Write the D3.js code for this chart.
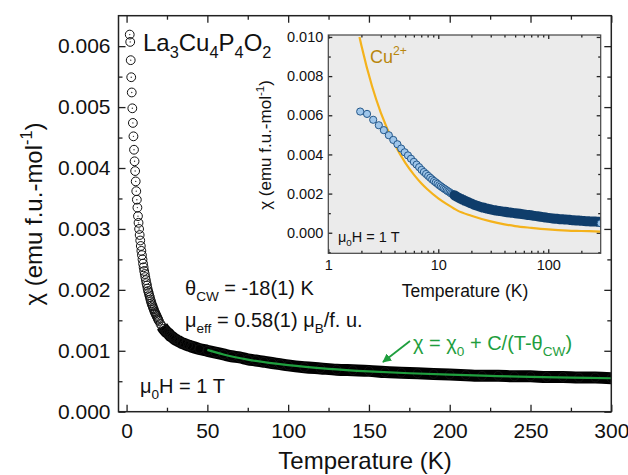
<!DOCTYPE html>
<html>
<head>
<meta charset="utf-8">
<script src="https://cdn.jsdelivr.net/npm/d3@7"></script>
<style>
  body { margin: 0; background: #fff; }
  svg { display: block; font-family: "Liberation Sans", Arial, sans-serif; }
</style>
</head>
<body>
<div id="chart"></div>
<script>
// measured chi(T), mu0H = 1 T
var tempK = [1.95, 2.25, 2.56, 2.88, 3.2, 3.55, 3.9, 4.25, 4.6, 4.95, 5.3, 5.65, 6.0, 6.35, 6.7, 7.05, 7.4,
  7.75, 8.1, 8.45, 8.8, 9.15, 9.5, 9.85, 10.2, 10.55, 10.9, 11.25, 11.6, 11.95, 12.3, 12.65, 13.0, 13.35, 13.7,
  14.05, 14.4, 14.75, 15.1, 15.45, 15.8, 16.15, 16.5, 16.85, 17.2, 17.55, 17.9, 18.25, 18.6, 18.95, 19.3, 19.65, 20,
  21, 22, 23, 24, 25, 26, 27, 28, 29, 30, 32, 34, 36, 38, 40, 45, 50, 55, 60, 65, 70, 75, 80, 85, 90, 95,
  100, 110, 120, 130, 140, 150, 160, 170, 180, 190, 200, 210, 220, 230, 240, 250, 260, 270, 280, 290, 300];
var chiMeas = [0.00619, 0.00607, 0.00577, 0.00549, 0.00524, 0.00498, 0.00474, 0.00452, 0.00430, 0.00411, 0.00395, 0.00378, 0.00362, 0.00348, 0.00335, 0.00321, 0.00310,
  0.00300, 0.00290, 0.00281, 0.00272, 0.00264, 0.00257, 0.00250, 0.00243, 0.00237, 0.00231, 0.00226, 0.00221, 0.00216, 0.00211, 0.00207, 0.00202, 0.00198, 0.00195,
  0.00191, 0.00188, 0.00184, 0.00181, 0.00178, 0.00175, 0.00173, 0.00170, 0.00168, 0.00165, 0.00163, 0.00161, 0.00159, 0.00157, 0.00155, 0.00153, 0.00151, 0.00149,
  0.00144, 0.00140, 0.00136, 0.00133, 0.00130, 0.00128, 0.00125, 0.00123, 0.00121, 0.00119, 0.00116, 0.00113, 0.00111, 0.00109, 0.00107, 0.00103, 0.00100, 0.00097, 0.00094, 0.00091, 0.00089, 0.00086, 0.00084, 0.00082, 0.00080, 0.00078,
  0.00076, 0.00073, 0.00071, 0.00069, 0.00068, 0.00067, 0.00065, 0.00064, 0.00063, 0.00062, 0.00061, 0.00060, 0.00059, 0.00059, 0.00058, 0.00058, 0.00057, 0.00057, 0.00056, 0.00056, 0.00055];

// Curie-Weiss fit line (50-300 K)
var fitT = [50, 60, 75, 100, 125, 150, 175, 200, 225, 250, 275, 300];
var fitChi = [0.001015, 0.000939, 0.000855, 0.000764, 0.000704, 0.000662, 0.000631, 0.000607, 0.000588, 0.000572, 0.000560, 0.000549];

// free Cu2+ curve in the inset
var cuT = [1.92, 2, 2.5, 3, 4, 5, 6, 7, 8, 10, 12, 15, 20, 30, 40, 50, 70, 100, 150, 200, 300];
var cuChi = [0.0100, 0.00956, 0.00748, 0.00614, 0.00453, 0.00358, 0.00297, 0.00253, 0.00221, 0.00176, 0.00146, 0.00113, 0.00087, 0.00058, 0.00043, 0.00034, 0.00025, 0.00017, 0.00011, 0.00009, 0.00006];

var mainXTicks = [0, 50, 100, 150, 200, 250, 300];
var mainXMinor = [25, 75, 125, 175, 225, 275];
var mainYTicks = [0, 0.001, 0.002, 0.003, 0.004, 0.005, 0.006];
var mainYMinor = [0.0005, 0.0015, 0.0025, 0.0035, 0.0045, 0.0055];
var insetXTicks = [1, 10, 100];
var insetXMinor = [2, 3, 4, 5, 6, 7, 8, 9, 20, 30, 40, 50, 60, 70, 80, 90, 200];
var insetYTicks = [0, 0.002, 0.004, 0.006, 0.008, 0.010];
var insetYMinor = [-0.001, 0.001, 0.003, 0.005, 0.007, 0.009];

var data = d3.zip(tempK, chiMeas);
var fitData = d3.zip(fitT, fitChi);
var cuData = d3.zip(cuT, cuChi);

var svg = d3.select("#chart").append("svg")
  .attr("width", 628)
  .attr("height", 475);

// text with sub/superscripts: parts = [[text, "sub"|"sup"|""], ...]
function richText(parent, x, y, parts, size, color, anchor) {
  var t = parent.append("text")
    .attr("x", x).attr("y", y)
    .attr("font-size", size)
    .attr("fill", color || "#111")
    .attr("text-anchor", anchor || "start");
  var shift = 0;
  parts.forEach(function(p) {
    var target = p[1] == "sub" ? 0.3 * size : (p[1] == "sup" ? -0.42 * size : 0);
    t.append("tspan")
      .attr("dy", target - shift)
      .attr("font-size", p[1] ? size * 0.68 : size)
      .text(p[0]);
    shift = target;
  });
  return t;
}

function styleAxis(g) {
  g.select(".domain").remove();
  g.selectAll(".tick line").attr("stroke", "#222").attr("stroke-width", 1.3);
  g.selectAll(".tick text").attr("fill", "#111");
}

// ---------------- main plot ----------------
var x = d3.scaleLinear().domain([-5, 300]).range([118.5, 611.3]);
var y = d3.scaleLinear().domain([0, 0.0065]).range([411.7, 15.7]);

svg.append("clipPath").attr("id", "clipMain").append("rect")
  .attr("x", 118.5).attr("y", 15.7).attr("width", 492.8).attr("height", 396);

var fmt = d3.format(".3f");

svg.append("g").attr("transform", "translate(0,411.7)")
  .style("font-size", "21px")
  .call(d3.axisBottom(x).tickValues(mainXTicks).tickSizeInner(-7).tickSizeOuter(0).tickPadding(11))
  .call(styleAxis);
svg.append("g").attr("transform", "translate(0,411.7)")
  .call(d3.axisBottom(x).tickValues(mainXMinor).tickSizeInner(-4).tickSizeOuter(0).tickFormat(""))
  .call(styleAxis);
svg.append("g").attr("transform", "translate(0,15.7)")
  .call(d3.axisTop(x).tickValues(mainXTicks).tickSizeInner(-7).tickSizeOuter(0).tickFormat(""))
  .call(styleAxis);
svg.append("g").attr("transform", "translate(0,15.7)")
  .call(d3.axisTop(x).tickValues(mainXMinor).tickSizeInner(-4).tickSizeOuter(0).tickFormat(""))
  .call(styleAxis);

svg.append("g").attr("transform", "translate(118.5,0)")
  .style("font-size", "21px")
  .call(d3.axisLeft(y).tickValues(mainYTicks).tickSizeInner(-7).tickSizeOuter(0).tickPadding(8).tickFormat(fmt))
  .call(styleAxis);
svg.append("g").attr("transform", "translate(118.5,0)")
  .call(d3.axisLeft(y).tickValues(mainYMinor).tickSizeInner(-4).tickSizeOuter(0).tickFormat(""))
  .call(styleAxis);
svg.append("g").attr("transform", "translate(611.3,0)")
  .call(d3.axisRight(y).tickValues(mainYTicks).tickSizeInner(-7).tickSizeOuter(0).tickFormat(""))
  .call(styleAxis);
svg.append("g").attr("transform", "translate(611.3,0)")
  .call(d3.axisRight(y).tickValues(mainYMinor).tickSizeInner(-4).tickSizeOuter(0).tickFormat(""))
  .call(styleAxis);

svg.selectAll("text").attr("font-family", "Liberation Sans, Arial, sans-serif");

var mainData = svg.append("g").attr("clip-path", "url(#clipMain)");

// dense part of the measurement shows as a solid band
mainData.append("path")
  .datum(data.filter(d => d[0] >= 22))
  .attr("fill", "none")
  .attr("stroke", "#000")
  .attr("stroke-width", 12)
  .attr("stroke-linejoin", "round")
  .attr("d", d3.line().x(d => x(d[0])).y(d => y(d[1])).curve(d3.curveMonotoneX));

mainData.selectAll("circle.pt")
  .data(data)
  .enter()
  .append("circle")
  .attr("class", "pt")
  .attr("cx", d => x(d[0]))
  .attr("cy", d => y(d[1]))
  .attr("r", 4.4)
  .attr("fill", "none")
  .attr("stroke", "#111")
  .attr("stroke-width", 1);

mainData.selectAll("circle.dot")
  .data(data.filter(d => d[0] < 8))
  .enter()
  .append("circle")
  .attr("class", "dot")
  .attr("cx", d => x(d[0]))
  .attr("cy", d => y(d[1]))
  .attr("r", 0.7)
  .attr("fill", "#333");

mainData.append("path")
  .datum(fitData)
  .attr("fill", "none")
  .attr("stroke", "#1f9e3e")
  .attr("stroke-width", 2.2)
  .attr("d", d3.line().x(d => x(d[0])).y(d => y(d[1])).curve(d3.curveMonotoneX));

svg.append("rect")
  .attr("x", 118.5).attr("y", 15.7).attr("width", 492.8).attr("height", 396)
  .attr("fill", "none").attr("stroke", "#222").attr("stroke-width", 1.5);

// axis titles
svg.append("text")
  .attr("x", 365).attr("y", 469)
  .attr("text-anchor", "middle")
  .attr("font-size", 24)
  .attr("fill", "#111")
  .text("Temperature (K)");

var yTitle = richText(svg, 0, 0, [["\u03c7 (emu f.u.-mol", ""], ["-1", "sup"], [")", ""]], 24, "#111", "middle");
yTitle.attr("transform", "translate(42,214) rotate(-90)");

// annotations
richText(svg, 143, 51, [["La", ""], ["3", "sub"], ["Cu", ""], ["4", "sub"], ["P", ""], ["4", "sub"], ["O", ""], ["2", "sub"]], 24);
richText(svg, 185, 295, [["\u03b8", ""], ["CW", "sub"], [" = -18(1) K", ""]], 20);
richText(svg, 185, 327, [["\u03bc", ""], ["eff", "sub"], [" = 0.58(1) \u03bc", ""], ["B", "sub"], ["/f. u.", ""]], 20);
richText(svg, 140, 393, [["\u03bc", ""], ["0", "sub"], ["H = 1 T", ""]], 20);
richText(svg, 413, 350, [["\u03c7 = \u03c7", ""], ["0", "sub"], [" + C/(T-\u03b8", ""], ["CW", "sub"], [")", ""]], 20, "#1f9e3e");

svg.append("defs").append("marker")
  .attr("id", "arrowG")
  .attr("viewBox", "0 0 10 10")
  .attr("refX", 9).attr("refY", 5)
  .attr("markerWidth", 5).attr("markerHeight", 5)
  .attr("orient", "auto")
  .append("path").attr("d", "M0,0 L10,5 L0,10 z").attr("fill", "#1f9e3e");

svg.append("line")
  .attr("x1", 410).attr("y1", 341).attr("x2", 383).attr("y2", 362)
  .attr("stroke", "#1f9e3e").attr("stroke-width", 1.8)
  .attr("marker-end", "url(#arrowG)");

// ---------------- inset ----------------
var ix = d3.scaleLog().domain([1, 300]).range([328.3, 600.7]);
var iy = d3.scaleLinear().domain([-0.00105, 0.0101]).range([253.3, 35]);

var inset = svg.append("g");
inset.append("rect")
  .attr("x", 328.3).attr("y", 35).attr("width", 272.4).attr("height", 218.3)
  .attr("fill", "#ebebeb");

inset.append("clipPath").attr("id", "clipInset").append("rect")
  .attr("x", 328.3).attr("y", 35).attr("width", 272.4).attr("height", 218.3);

inset.append("g").attr("transform", "translate(0,253.3)")
  .style("font-size", "14.5px")
  .call(d3.axisBottom(ix).tickValues(insetXTicks).tickSizeInner(-4).tickSizeOuter(0).tickPadding(6).tickFormat(d3.format("d")))
  .call(styleAxis);
inset.append("g").attr("transform", "translate(0,253.3)")
  .call(d3.axisBottom(ix).tickValues(insetXMinor).tickSizeInner(-2.5).tickSizeOuter(0).tickFormat(""))
  .call(styleAxis);
inset.append("g").attr("transform", "translate(0,35)")
  .call(d3.axisTop(ix).tickValues(insetXTicks).tickSizeInner(-4).tickSizeOuter(0).tickFormat(""))
  .call(styleAxis);
inset.append("g").attr("transform", "translate(0,35)")
  .call(d3.axisTop(ix).tickValues(insetXMinor).tickSizeInner(-2.5).tickSizeOuter(0).tickFormat(""))
  .call(styleAxis);
inset.append("g").attr("transform", "translate(328.3,0)")
  .style("font-size", "14.5px")
  .call(d3.axisLeft(iy).tickValues(insetYTicks).tickSizeInner(-4).tickSizeOuter(0).tickPadding(5).tickFormat(fmt))
  .call(styleAxis);
inset.append("g").attr("transform", "translate(328.3,0)")
  .call(d3.axisLeft(iy).tickValues(insetYMinor).tickSizeInner(-2.5).tickSizeOuter(0).tickFormat(""))
  .call(styleAxis);
inset.append("g").attr("transform", "translate(600.7,0)")
  .call(d3.axisRight(iy).tickValues(insetYTicks).tickSizeInner(-4).tickSizeOuter(0).tickFormat(""))
  .call(styleAxis);
inset.append("g").attr("transform", "translate(600.7,0)")
  .call(d3.axisRight(iy).tickValues(insetYMinor).tickSizeInner(-2.5).tickSizeOuter(0).tickFormat(""))
  .call(styleAxis);

inset.selectAll("text").attr("font-family", "Liberation Sans, Arial, sans-serif");

var insetData = inset.append("g").attr("clip-path", "url(#clipInset)");

insetData.append("path")
  .datum(cuData)
  .attr("fill", "none")
  .attr("stroke", "#f4b21b")
  .attr("stroke-width", 2.2)
  .attr("d", d3.line().x(d => ix(d[0])).y(d => iy(d[1])).curve(d3.curveMonotoneX));

insetData.selectAll("circle.ipt")
  .data(data.filter(d => d[0] < 16))
  .enter()
  .append("circle")
  .attr("class", "ipt")
  .attr("cx", d => ix(d[0]))
  .attr("cy", d => iy(d[1]))
  .attr("r", 3.6)
  .attr("fill", "#9fc6ea")
  .attr("stroke", "#23578a")
  .attr("stroke-width", 1);

// band drawn over the last circles so the light points fade into it
insetData.append("path")
  .datum(data.filter(d => d[0] >= 14))
  .attr("fill", "none")
  .attr("stroke", "#0f3d6b")
  .attr("stroke-width", 10)
  .attr("stroke-linejoin", "round")
  .attr("stroke-linecap", "round")
  .attr("d", d3.line().x(d => ix(d[0])).y(d => iy(d[1])).curve(d3.curveMonotoneX));

insetData.append("circle")
  .attr("cx", ix(300)).attr("cy", iy(0.00048))
  .attr("r", 3.6)
  .attr("fill", "#9fc6ea").attr("stroke", "#23578a");

inset.append("rect")
  .attr("x", 328.3).attr("y", 35).attr("width", 272.4).attr("height", 218.3)
  .attr("fill", "none").attr("stroke", "#444").attr("stroke-width", 1.2);

inset.append("text")
  .attr("x", 465).attr("y", 297)
  .attr("text-anchor", "middle")
  .attr("font-size", 17.5)
  .attr("fill", "#111")
  .text("Temperature (K)");

var iyTitle = richText(inset, 0, 0, [["\u03c7 (emu f.u.-mol", ""], ["-1", "sup"], [")", ""]], 17, "#111", "middle");
iyTitle.attr("transform", "translate(271,145) rotate(-90)");

richText(inset, 370, 63, [["Cu", ""], ["2+", "sup"]], 18, "#b8860b");
richText(inset, 338, 242, [["\u03bc", ""], ["0", "sub"], ["H = 1 T", ""]], 14.5);
</script>
</body>
</html>
